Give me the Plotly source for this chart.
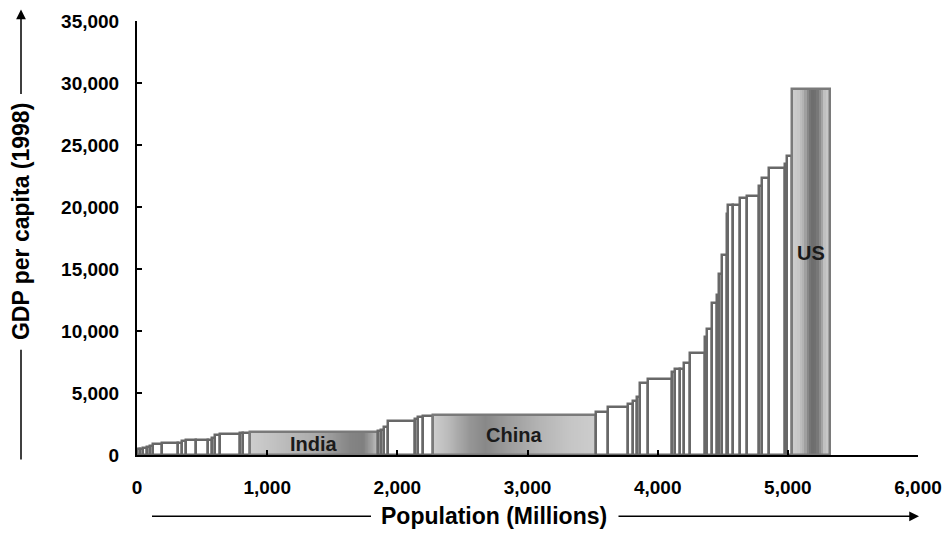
import numpy as np
import plotly.graph_objects as go

# ---- data ----
population = [23, 23, 31, 23, 23, 69, 123, 31, 31, 77, 92, 31, 23, 38, 154, 23, 54,
              983,
              23, 23, 31, 207, 23, 38, 77,
              1252,
              92, 154, 38, 31, 23, 61, 184, 23, 38, 31, 46, 115, 15, 38, 38, 15, 23, 38,
              15, 31, 54, 61, 92, 23, 54, 123, 15, 38,
              292]
gdp_per_capita = [480, 520, 560, 650, 720, 900, 930, 1000, 1100, 1190, 1200, 1250, 1400, 1600, 1720, 1750, 1800,
                  1830,
                  1900, 2050, 2250, 2770, 2900, 3050, 3110,
                  3250,
                  3500, 3870, 4130, 4350, 4670, 5790, 6110, 6720, 6940, 6960, 7400, 8200, 9540, 10130, 12270, 12880, 14620, 16090,
                  19440, 20180, 20180, 20720, 20880, 21710, 22330, 23130, 23500, 24120,
                  29550]
names = [""] * len(population)
names[17] = "India"
names[25] = "China"
names[54] = "US"

x_ticks = [0, 1000, 2000, 3000, 4000, 5000, 6000]
y_ticks = [0, 5000, 10000, 15000, 20000, 25000, 30000, 35000]

# ---- geometry derived from data ----
pop = np.array(population, dtype=float)
starts = np.concatenate([[0], np.cumsum(pop)[:-1]])
ends = starts + pop
centers = starts + pop / 2

# ---- styling ----
FONT = "Liberation Sans, Arial, sans-serif"
OUTLINE = "#686868"

# grey gradient profiles (fraction across bar -> grey level)
profiles = {
    "India": ([0, 0.12, 0.3, 0.5, 0.65, 0.78, 0.88, 0.95, 1.0],
              [205, 198, 185, 172, 152, 132, 128, 165, 200], 80, "best"),
    "China": ([0, 0.1, 0.22, 0.32, 0.45, 0.65, 0.85, 1.0],
              [205, 185, 150, 136, 155, 180, 198, 205], 80, "best"),
    "US": ([0, 0.15, 0.3, 0.45, 0.55, 0.65, 0.75, 0.85, 1.0],
           [205, 200, 176, 120, 108, 118, 150, 195, 205], 16, False),
}

fig = go.Figure()

grey_scale = [[0, "rgb(0,0,0)"], [1, "rgb(255,255,255)"]]
for i, nm in enumerate(names):
    if nm in profiles:
        fx, fg, n, smooth = profiles[nm]
        edges = np.linspace(starts[i], ends[i], n + 1)
        mids = (np.arange(n) + 0.5) / n
        z = np.interp(mids, fx, fg)
        fig.add_trace(go.Heatmap(
            x=edges, y=[0, gdp_per_capita[i]], z=[z.tolist()],
            colorscale=grey_scale, zmin=0, zmax=255, showscale=False,
            hoverinfo="skip", zsmooth=smooth if smooth else False,
        ))

fill = ["rgba(0,0,0,0)" if nm else "white" for nm in names]
line_col = ["#7a7a7a" if nm else OUTLINE for nm in names]
fig.add_trace(go.Bar(
    x=centers, y=gdp_per_capita, width=pop, base=0,
    marker=dict(color=fill, line=dict(color=line_col, width=2.5)),
    hovertext=names, showlegend=False,
))

label_frac = {"India": 0.5, "China": 0.5, "US": 0.55}
for i, nm in enumerate(names):
    if nm:
        fig.add_annotation(
            x=centers[i], y=gdp_per_capita[i] * label_frac[nm], text=nm,
            showarrow=False, xanchor="center", yanchor="middle",
            font=dict(family=FONT, size=20, color="#1a1a1a", weight="bold"),
        )

# ---- layout in page pixels (body margin removed below) ----
W, H = 948, 556
L, R, T, B = 137, 918, 20.5, 455.5   # plot area on the page


def px(x):
    return (x - L) / (R - L)


def py(y):
    return (B - y) / (B - T)


TX = 21  # x of the y-title and its arrow line
fig.add_annotation(
    x=px(TX), y=py(221), xref="paper", yref="paper", text="GDP per capita (1998)",
    textangle=-90, showarrow=False, xanchor="center", yanchor="middle",
    font=dict(family=FONT, size=23, color="black", weight="bold"),
)
fig.add_annotation(
    x=px(494), y=py(517), xref="paper", yref="paper", text="Population (Millions)",
    showarrow=False, xanchor="center", yanchor="middle",
    font=dict(family=FONT, size=23, color="black", weight="bold"),
)
# plain segments
fig.add_shape(type="line", xref="paper", yref="paper",
              x0=px(TX), x1=px(TX), y0=py(460), y1=py(350),
              line=dict(color="black", width=1.5))
fig.add_shape(type="line", xref="paper", yref="paper",
              x0=px(152), x1=px(371), y0=py(517), y1=py(517),
              line=dict(color="black", width=1.5))
# arrow segments
fig.add_annotation(x=px(TX), y=py(9), xref="paper", yref="paper",
                   ax=0, ay=86, axref="pixel", ayref="pixel", text="",
                   showarrow=True, arrowhead=2, arrowsize=1.3, arrowwidth=1.5,
                   arrowcolor="black")
fig.add_annotation(x=px(919), y=py(517), xref="paper", yref="paper",
                   ax=-302, ay=0, axref="pixel", ayref="pixel", text="",
                   showarrow=True, arrowhead=2, arrowsize=1.3, arrowwidth=1.5,
                   arrowcolor="black")

axis_common = dict(
    showline=True, linecolor="black", linewidth=2, ticks="inside",
    ticklen=5, tickwidth=2, tickcolor="black", showgrid=False, zeroline=False,
    automargin=False,
    tickformat=",d", tickfont=dict(family=FONT, size=19, color="black", weight="bold"),
)
fig.update_layout(
    width=W, height=H,
    margin=dict(l=L, r=W - R, t=T, b=H - B, autoexpand=False),
    plot_bgcolor="white", paper_bgcolor="white",
    showlegend=False, bargap=0,
    xaxis=dict(range=[0, 6000], tickvals=x_ticks, ticklabelstandoff=14, **axis_common),
    yaxis=dict(range=[0, 35000], tickvals=y_ticks, ticklabelstandoff=12, **axis_common),
)

fig.write_html(
    "out.html",
    config={"displayModeBar": False},
    post_script="document.body.style.margin='0';document.body.style.overflow='hidden';",
)
